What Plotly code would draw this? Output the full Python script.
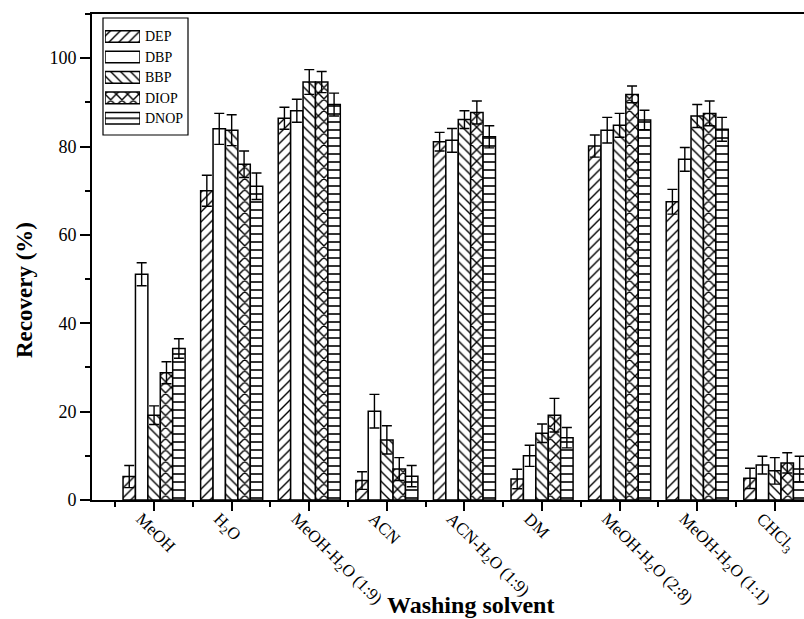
import plotly.graph_objects as go

# Washing solvents (x categories) and analytes (series)
solvents = [
    "MeOH",
    "H<sub>2</sub>O",
    "MeOH-H<sub>2</sub>O (1:9)",
    "ACN",
    "ACN-H<sub>2</sub>O (1:9)",
    "DM",
    "MeOH-H<sub>2</sub>O (2:8)",
    "MeOH-H<sub>2</sub>O (1:1)",
    "CHCl<sub>3</sub>",
]
compounds = ["DEP", "DBP", "BBP", "DIOP", "DNOP"]

# Recovery (%) and standard deviations, one list per analyte
dep = [5.3, 70.0, 86.4, 4.4, 81.1, 4.75, 80.1, 67.5, 4.9]
dep_err = [2.5, 3.5, 2.5, 2.0, 2.1, 2.2, 2.5, 2.8, 2.3]
dbp = [51.1, 84.0, 88.1, 20.1, 81.4, 10.0, 83.7, 77.1, 7.9]
dbp_err = [2.6, 3.5, 2.6, 3.8, 2.7, 2.4, 2.9, 2.7, 2.0]
bbp = [19.2, 83.7, 94.6, 13.6, 86.1, 15.1, 84.8, 86.9, 6.6]
bbp_err = [2.1, 3.5, 2.8, 3.2, 2.0, 2.1, 2.7, 2.6, 3.0]
diop = [28.8, 76.0, 94.6, 7.0, 87.7, 19.2, 91.8, 87.5, 8.4]
diop_err = [2.5, 3.0, 2.4, 2.6, 2.6, 3.8, 1.9, 2.8, 2.3]
dnop = [34.3, 71.0, 89.5, 5.4, 82.2, 14.1, 86.0, 83.9, 7.0]
dnop_err = [2.2, 3.0, 2.6, 2.4, 2.5, 2.3, 2.2, 2.7, 2.9]

values = [dep, dbp, bbp, diop, dnop]
errors = [dep_err, dbp_err, bbp_err, diop_err, dnop_err]
patterns = ["/", "", "\\", "x", "-"]
pattern_sizes = [7, 8, 7, 8, 8]
pattern_solidity = [0.2, 0.2, 0.2, 0.32, 0.2]

FONT = "Liberation Serif, Times New Roman, serif"
W, H = 804, 619
L, R, T, B = 92, 0, 14, 119
plot_w = W - L - R
plot_h = H - T - B

positions = list(range(1, len(solvents) + 1))

fig = go.Figure()

for name, vals, errs, shp, sz, sol in zip(compounds, values, errors, patterns,
                                          pattern_sizes, pattern_solidity):
    fig.add_trace(go.Bar(
        name=name,
        x=positions,
        y=vals,
        showlegend=False,
        marker=dict(
            color="white",
            line=dict(color="black", width=1.5),
            pattern=dict(shape=shp, size=sz, solidity=sol,
                         fgcolor="black", bgcolor="white", fillmode="replace"),
        ),
        error_y=dict(type="data", array=errs, symmetric=True,
                     color="black", thickness=1.4, width=5),
    ))


def px_x(p):
    return (p - L) / plot_w


def px_y(p):
    return (H - B - p) / plot_h


# Legend keys drawn as short horizontal bars in a small inset axis
fig.add_trace(go.Bar(
    x=[1] * len(compounds),
    y=compounds,
    orientation="h",
    width=0.57,
    xaxis="x2",
    yaxis="y2",
    showlegend=False,
    hoverinfo="skip",
    marker=dict(
        color="white",
        line=dict(color="black", width=1.5),
        pattern=dict(shape=patterns, size=pattern_sizes, solidity=pattern_solidity,
                     fgcolor="black", bgcolor="white", fillmode="replace"),
    ),
))

fig.add_shape(type="rect", xref="paper", yref="paper",
              x0=px_x(103), x1=px_x(188), y0=px_y(135), y1=px_y(18),
              line=dict(color="black", width=1.2), fillcolor="rgba(0,0,0,0)",
              layer="below")

fig.add_annotation(text="<b>Washing solvent</b>", xref="paper", yref="paper",
                   x=px_x(470), y=px_y(605), xanchor="center", yanchor="middle",
                   showarrow=False, font=dict(family=FONT, size=24, color="black"))

fig.add_annotation(text="<b>Recovery (%)</b>", xref="paper", yref="paper",
                   x=px_x(24), y=px_y(290), xanchor="center", yanchor="middle",
                   textangle=-90, showarrow=False,
                   font=dict(family=FONT, size=23, color="black"))

fig.update_layout(
    width=W, height=H,
    margin=dict(l=L, r=R, t=T, b=B, pad=0),
    paper_bgcolor="white",
    plot_bgcolor="white",
    barmode="group",
    bargap=0.2,
    bargroupgap=0,
    font=dict(family=FONT, size=18, color="black"),
    xaxis=dict(
        range=[0.2, 9.376],
        tickmode="array",
        tickvals=positions,
        ticktext=solvents,
        tickangle=45,
        ticklabelshift=-13,
        ticklabelstandoff=-9,
        ticks="outside", ticklen=9, tickwidth=2, tickcolor="black",
        minor=dict(tickmode="array",
                   tickvals=[p - 0.5 for p in positions] + [positions[-1] + 0.5],
                   ticks="outside", ticklen=5, tickwidth=2, tickcolor="black"),
        showline=True, linecolor="black", linewidth=2, mirror=True,
        showgrid=False, zeroline=False,
        tickfont=dict(family=FONT, size=17, color="black"),
    ),
    yaxis=dict(
        range=[0, 110],
        tickvals=[0, 20, 40, 60, 80, 100],
        ticks="outside", ticklen=10, tickwidth=2, tickcolor="black",
        minor=dict(dtick=10, ticks="outside", ticklen=5, tickwidth=2, tickcolor="black"),
        showline=True, linecolor="black", linewidth=2, mirror=False,
        showgrid=False, zeroline=False,
        tickfont=dict(family=FONT, size=18, color="black"),
    ),
    xaxis2=dict(
        domain=[px_x(105), px_x(140)],
        anchor="y2", range=[0, 1],
        visible=False, fixedrange=True,
    ),
    yaxis2=dict(
        domain=[px_y(128.5), px_y(26.3)],
        anchor="x2", side="right",
        categoryorder="array", categoryarray=compounds,
        autorange="reversed",
        showline=False, showgrid=False, zeroline=False, ticks="",
        ticklabelstandoff=4,
        tickfont=dict(family=FONT, size=14, color="black"),
        fixedrange=True,
    ),
)

fig.write_html("out.html")
